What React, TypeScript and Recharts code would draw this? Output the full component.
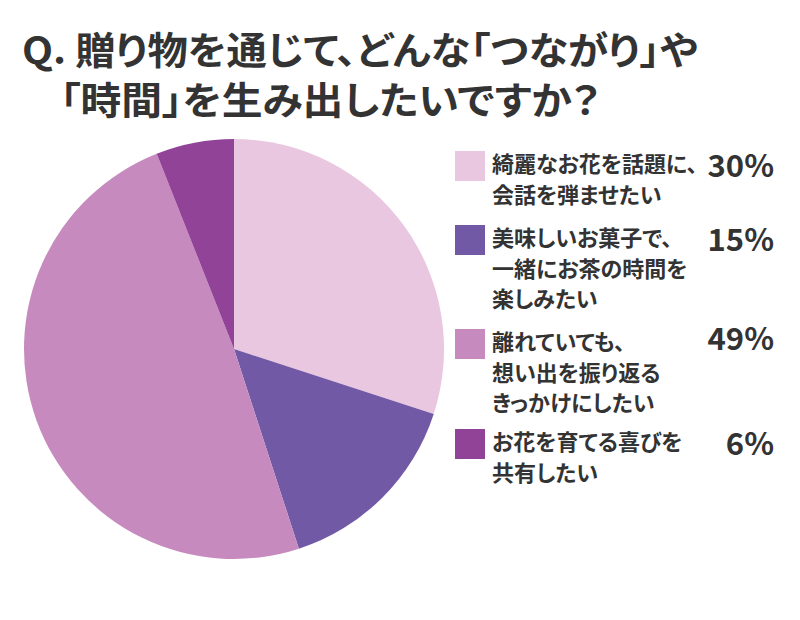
import React from 'react'
import { PieChart, Pie, Cell } from 'recharts'

const titleLines = ['Q. 贈り物を通じて、どんな「つながり」や', '「時間」を生み出したいですか？']
const categories = [
  ['綺麗なお花を話題に、', '会話を弾ませたい'],
  ['美味しいお菓子で、', '一緒にお茶の時間を', '楽しみたい'],
  ['離れていても、', '想い出を振り返る', 'きっかけにしたい'],
  ['お花を育てる喜びを', '共有したい'],
]
const shares = [30, 15, 49, 6]
const COLORS = ['#E9C7E0', '#7259A6', '#C68ABE', '#914398']

const data = categories.map((lines, i) => ({ name: lines.join(''), value: shares[i] }))

const FONT = '"Noto Sans CJK JP", "Noto Sans", sans-serif'
const TEXT = '#333333'

// legend rows: top of each colour square
const rowTops = [151, 225, 329, 429]
const pctBaselines = [177, 251, 350, 455]

export default function App() {
  return (
    <div style={{ position: 'absolute', left: 0, top: 0, width: 800, height: 620, background: '#fff' }}>
      <PieChart
        width={800}
        height={620}
        margin={{ top: 0, right: 0, bottom: 0, left: 0 }}
        style={{ position: 'absolute', left: 0, top: 0 }}
      >
        <Pie
          data={data}
          dataKey="value"
          cx={234}
          cy={349}
          outerRadius={210}
          startAngle={90}
          endAngle={-270}
          stroke="none"
          isAnimationActive={false}
        >
          {data.map((entry, index) => (
            <Cell key={`cell-${index}`} fill={COLORS[index % COLORS.length]} />
          ))}
        </Pie>
      </PieChart>
      <svg width={800} height={620} style={{ position: 'absolute', left: 0, top: 0, pointerEvents: 'none' }}>
        <text x={22} y={64} fontFamily={FONT} fontWeight={700} fontSize={38} fill={TEXT}
          style={{ fontFeatureSettings: '"palt"' }}
          textLength={676} lengthAdjust="spacingAndGlyphs">
          {titleLines[0]}
        </text>
        <text x={60} y={114} fontFamily={FONT} fontWeight={700} fontSize={38} fill={TEXT}
          style={{ fontFeatureSettings: '"palt"' }}
          textLength={540} lengthAdjust="spacingAndGlyphs">
          {titleLines[1]}
        </text>
        {categories.map((lines, i) => (
          <g key={i}>
            <rect x={455} y={rowTops[i]} width={30} height={30} fill={COLORS[i]} />
            {lines.map((line, j) => (
              <text
                key={j}
                x={492}
                y={rowTops[i] + 21 + j * 30.5}
                fontFamily={FONT}
                fontWeight={700}
                fontSize={22}
                fill={TEXT}
                style={{ fontFeatureSettings: '"palt"' }}
              >
                {line}
              </text>
            ))}
            <text
              x={774}
              y={pctBaselines[i]}
              textAnchor="end"
              fontFamily={FONT}
              fontWeight={700}
              fontSize={31}
              fill={TEXT}
            >
              {shares[i]}%
            </text>
          </g>
        ))}
      </svg>
    </div>
  )
}
